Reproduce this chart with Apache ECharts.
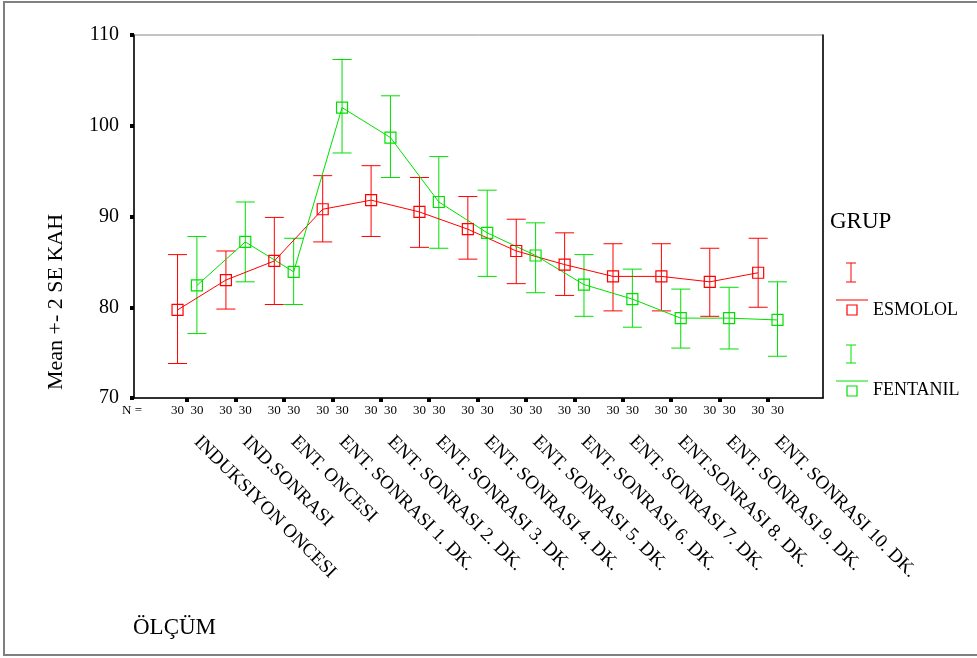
<!DOCTYPE html>
<html>
<head>
<meta charset="utf-8">
<script src="https://cdn.jsdelivr.net/npm/echarts@6/dist/echarts.min.js"></script>
<style>
  html, body { margin: 0; padding: 0; background: #fff; }
  #chart { width: 977px; height: 658px; }
</style>
</head>
<body>
<div id="chart"></div>
<script>
  // olcum noktalari
  var categories = ['INDUKSIYON ONCESI', 'IND.SONRASI', 'ENT. ONCESI', 'ENT. SONRASI 1. DK.',
    'ENT. SONRASI 2. DK.', 'ENT. SONRASI 3. DK.', 'ENT. SONRASI 4. DK.', 'ENT. SONRASI 5. DK.',
    'ENT. SONRASI 6. DK.', 'ENT. SONRASI 7. DK.', 'ENT.SONRASI 8. DK.', 'ENT. SONRASI 9. DK.',
    'ENT. SONRASI 10. DK.'];
  var nEsmolol = [30, 30, 30, 30, 30, 30, 30, 30, 30, 30, 30, 30, 30];
  var nFentanil = [30, 30, 30, 30, 30, 30, 30, 30, 30, 30, 30, 30, 30];

  // ortalama +- 2 SE
  var esmololMean = [79.7, 83.0, 85.1, 90.8, 91.8, 90.5, 88.6, 86.2, 84.7, 83.4, 83.4, 82.8, 83.8];
  var esmololLow  = [73.8, 79.8, 80.3, 87.2, 87.8, 86.6, 85.3, 82.6, 81.3, 79.6, 79.6, 79.0, 80.0];
  var esmololHigh = [85.8, 86.2, 89.9, 94.5, 95.6, 94.3, 92.2, 89.7, 88.2, 87.0, 87.0, 86.5, 87.6];
  var fentanilMean = [82.4, 87.2, 83.9, 102.0, 98.7, 91.6, 88.2, 85.7, 82.5, 80.9, 78.8, 78.8, 78.6];
  var fentanilLow  = [77.1, 82.8, 80.3, 97.0, 94.3, 86.5, 83.4, 81.6, 79.0, 77.8, 75.5, 75.4, 74.6];
  var fentanilHigh = [87.8, 91.6, 87.6, 107.3, 103.3, 96.6, 92.9, 89.3, 85.8, 84.2, 82.0, 82.2, 82.8];

  var yMin = 70, yMax = 110, yStep = 10;

  var RED = '#ff0000', GREEN = '#00e000';
  var FONT = '"Liberation Serif", "DejaVu Serif", serif';

  var idx = categories.map(function (c, i) { return i; });
  // etiketler SPSS'teki gibi biraz saga kaymis
  var labelPos = idx.map(function (i) { return i + 0.2; });

  function points(vals, shift) {
    return vals.map(function (v, i) { return [i + shift, v]; });
  }
  function bars(lo, hi, shift) {
    return lo.map(function (v, i) { return [i + shift, v, hi[i]]; });
  }
  function errorBar(color) {
    return function (params, api) {
      var x = api.value(0);
      var lo = api.coord([x, api.value(1)]);
      var hi = api.coord([x, api.value(2)]);
      var w = 9.5;
      var st = { stroke: color, lineWidth: 1 };
      return {
        type: 'group',
        children: [
          { type: 'line', shape: { x1: hi[0], y1: hi[1], x2: lo[0], y2: lo[1] }, style: st },
          { type: 'line', shape: { x1: hi[0] - w, y1: hi[1], x2: hi[0] + w, y2: hi[1] }, style: st },
          { type: 'line', shape: { x1: lo[0] - w, y1: lo[1], x2: lo[0] + w, y2: lo[1] }, style: st }
        ]
      };
    };
  }

  var myChart = echarts.init(document.getElementById('chart'));
  myChart.setOption({
    animation: false,
    backgroundColor: '#fff',
    textStyle: { fontFamily: FONT, color: '#000' },
    grid: {
      left: 134, top: 35, right: 154, bottom: 260,
      show: true, borderColor: '#888', borderWidth: 1
    },
    xAxis: [
      {
        type: 'value', position: 'bottom', min: -1.1, max: 13.14,
        splitLine: { show: false },
        axisLine: { onZero: false, lineStyle: { color: '#000', width: 1.5 } },
        axisTick: { customValues: idx, length: 4, lineStyle: { color: '#000', width: 4 } },
        axisLabel: {
          customValues: idx, margin: 6, fontSize: 13, fontFamily: FONT, color: '#000',
          formatter: function (v) { return nEsmolol[v] + '  ' + nFentanil[v]; }
        }
      },
      {
        type: 'value', position: 'bottom', min: -1.1, max: 13.14,
        splitLine: { show: false },
        axisLine: { show: false, onZero: false },
        axisTick: { show: false },
        axisLabel: {
          customValues: labelPos, margin: 41, rotate: -45, fontSize: 19, fontFamily: FONT, color: '#000',
          formatter: function (v) { return categories[Math.round(v - 0.2)]; }
        }
      }
    ],
    yAxis: [
      {
        type: 'value', min: yMin, max: yMax, interval: yStep,
        splitLine: { show: false },
        axisLine: { show: true, onZero: false, lineStyle: { color: '#000', width: 1.5 } },
        axisTick: { length: 4, lineStyle: { color: '#000', width: 4 } },
        axisLabel: { margin: 15, fontSize: 20, fontFamily: FONT, color: '#000' }
      },
      {
        type: 'value', position: 'right', min: yMin, max: yMax,
        splitLine: { show: false },
        axisLine: { show: true, onZero: false, lineStyle: { color: '#000', width: 1.5 } },
        axisTick: { show: false },
        axisLabel: { show: false }
      }
    ],
    series: [
      {
        name: 'ESMOLOL err', type: 'custom', renderItem: errorBar(RED),
        data: bars(esmololLow, esmololHigh, -0.2), z: 2
      },
      {
        name: 'FENTANIL err', type: 'custom', renderItem: errorBar(GREEN),
        data: bars(fentanilLow, fentanilHigh, 0.2), z: 2
      },
      {
        name: 'ESMOLOL', type: 'line', data: points(esmololMean, -0.2),
        symbol: 'rect', symbolSize: 11,
        lineStyle: { color: RED, width: 1 },
        itemStyle: { color: 'transparent', borderColor: RED, borderWidth: 1.2 }, z: 3
      },
      {
        name: 'FENTANIL', type: 'line', data: points(fentanilMean, 0.2),
        symbol: 'rect', symbolSize: 11,
        lineStyle: { color: GREEN, width: 1 },
        itemStyle: { color: 'transparent', borderColor: GREEN, borderWidth: 1.2 }, z: 3
      }
    ],
    graphic: [
      { type: 'rect', z: -10, shape: { x: 4, y: 2, width: 1000, height: 653 },
        style: { fill: 'none', stroke: '#808080', lineWidth: 2 } },
      { type: 'text', x: 56, y: 302, rotation: Math.PI / 2,
        style: { text: 'Mean +- 2 SE KAH', font: '22px ' + FONT, fill: '#000', align: 'center', verticalAlign: 'middle' } },
      { type: 'text', x: 122, y: 411,
        style: { text: 'N =', font: '13px ' + FONT, fill: '#000', align: 'left', verticalAlign: 'middle' } },
      { type: 'text', x: 133, y: 628,
        style: { text: 'ÖLÇÜM', font: '23px ' + FONT, fill: '#000', align: 'left', verticalAlign: 'middle' } },
      // legend
      { type: 'text', x: 830, y: 222,
        style: { text: 'GRUP', font: '23px ' + FONT, fill: '#000', align: 'left', verticalAlign: 'middle' } },
      { type: 'group', children: [
        { type: 'line', shape: { x1: 851, y1: 263, x2: 851, y2: 282 }, style: { stroke: RED, lineWidth: 1 } },
        { type: 'line', shape: { x1: 846, y1: 263, x2: 856, y2: 263 }, style: { stroke: RED, lineWidth: 1 } },
        { type: 'line', shape: { x1: 846, y1: 282, x2: 856, y2: 282 }, style: { stroke: RED, lineWidth: 1 } },
        { type: 'line', shape: { x1: 836, y1: 300, x2: 868, y2: 300 }, style: { stroke: RED, lineWidth: 1 } },
        { type: 'rect', shape: { x: 847, y: 305, width: 10, height: 10 }, style: { fill: 'none', stroke: RED, lineWidth: 1.2 } },
        { type: 'text', x: 873, y: 310,
          style: { text: 'ESMOLOL', font: '18px ' + FONT, fill: '#000', align: 'left', verticalAlign: 'middle' } }
      ] },
      { type: 'group', children: [
        { type: 'line', shape: { x1: 851, y1: 345, x2: 851, y2: 363 }, style: { stroke: GREEN, lineWidth: 1 } },
        { type: 'line', shape: { x1: 846, y1: 345, x2: 856, y2: 345 }, style: { stroke: GREEN, lineWidth: 1 } },
        { type: 'line', shape: { x1: 846, y1: 363, x2: 856, y2: 363 }, style: { stroke: GREEN, lineWidth: 1 } },
        { type: 'line', shape: { x1: 836, y1: 381, x2: 868, y2: 381 }, style: { stroke: GREEN, lineWidth: 1 } },
        { type: 'rect', shape: { x: 847, y: 386, width: 10, height: 10 }, style: { fill: 'none', stroke: GREEN, lineWidth: 1.2 } },
        { type: 'text', x: 873, y: 390,
          style: { text: 'FENTANIL', font: '18px ' + FONT, fill: '#000', align: 'left', verticalAlign: 'middle' } }
      ] }
    ]
  });
</script>
</body>
</html>
